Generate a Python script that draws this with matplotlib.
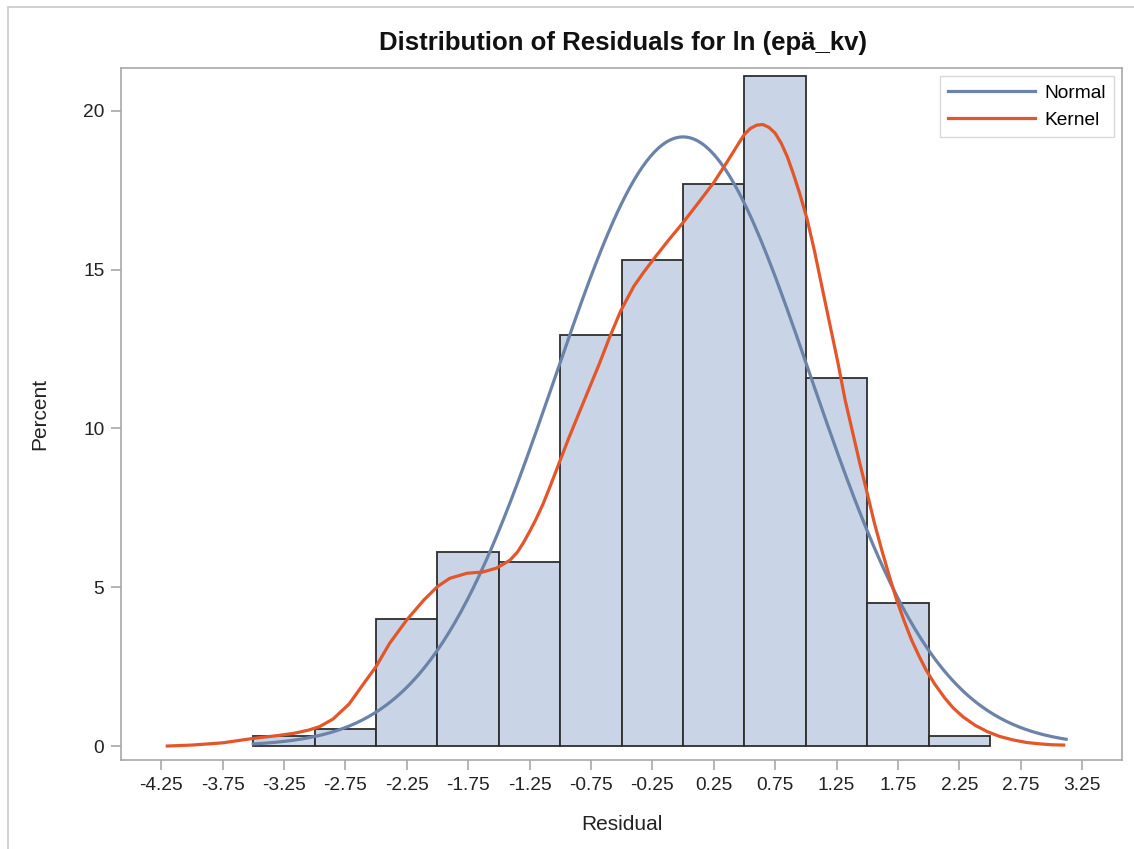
import numpy as np
import matplotlib
matplotlib.use('Agg')
import matplotlib.pyplot as plt
from matplotlib.lines import Line2D

plt.rcParams['font.family'] = ['Liberation Sans', 'DejaVu Sans']

# Histogram: bin edges and percent per bin
bin_edges = [-3.5, -3.0, -2.5, -2.0, -1.5, -1.0, -0.5, 0.0, 0.5, 1.0, 1.5, 2.0, 2.5]
bin_percent = [0.3, 0.55, 4.0, 6.1, 5.8, 12.95, 15.3, 17.7, 21.1, 11.6, 4.5, 0.3]

# Fitted normal parameters
normal_mu = 0.0
normal_sigma = 1.04
normal_range = (-3.5, 3.12)

# Kernel density curve
kernel_x = [-4.20, -4.00, -3.75, -3.50, -3.30, -3.17, -3.05, -2.96, -2.85, -2.72,
            -2.60, -2.50, -2.39, -2.25, -2.11, -2.00, -1.90, -1.76, -1.63, -1.52,
            -1.41, -1.35, -1.30, -1.25, -1.20, -1.14, -1.08, -1.02, -0.93, -0.84,
            -0.76, -0.68, -0.60, -0.51, -0.45, -0.40, -0.32, -0.24, -0.12, 0.00,
            0.12, 0.25, 0.36, 0.46, 0.50, 0.55, 0.60, 0.65, 0.70, 0.75,
            0.80, 0.85, 0.90, 0.95, 1.01, 1.07, 1.14, 1.20, 1.26, 1.32,
            1.38, 1.44, 1.50, 1.56, 1.62, 1.68, 1.74, 1.80, 1.86, 1.92,
            1.98, 2.05, 2.13, 2.20, 2.28, 2.38, 2.48, 2.58, 2.69, 2.80,
            2.90, 3.00, 3.10]
kernel_y = [0.00, 0.03, 0.10, 0.24, 0.33, 0.40, 0.50, 0.61, 0.85, 1.32,
            1.97, 2.50, 3.23, 3.97, 4.60, 5.02, 5.28, 5.44, 5.48, 5.60,
            5.85, 6.10, 6.40, 6.75, 7.12, 7.62, 8.20, 8.80, 9.70, 10.55,
            11.30, 12.05, 12.85, 13.68, 14.12, 14.48, 14.92, 15.33, 15.92, 16.48,
            17.08, 17.74, 18.40, 19.02, 19.26, 19.45, 19.55, 19.57, 19.48, 19.30,
            18.98, 18.55, 18.00, 17.40, 16.60, 15.60, 14.30, 13.20, 12.10, 10.90,
            9.90, 8.90, 7.96, 7.00, 6.15, 5.35, 4.60, 3.95, 3.35, 2.85,
            2.39, 1.95, 1.52, 1.20, 0.92, 0.65, 0.45, 0.30, 0.19, 0.11,
            0.07, 0.04, 0.03]

x_ticks = [-4.25, -3.75, -3.25, -2.75, -2.25, -1.75, -1.25, -0.75, -0.25,
           0.25, 0.75, 1.25, 1.75, 2.25, 2.75, 3.25]
y_ticks = [0, 5, 10, 15, 20]

bar_color = '#C9D5E6'
normal_color = '#6B83A8'
kernel_color = '#E2562A'
axis_gray = '#A8A8A8'

fig = plt.figure(figsize=(11.34, 8.49), dpi=100)
ax = fig.add_axes([121 / 1134, 1 - 760 / 849, 1001 / 1134, 692 / 849])

# histogram bars
lefts = bin_edges[:-1]
widths = np.diff(bin_edges)
ax.bar(lefts, bin_percent, width=widths, align='edge', color=bar_color,
       edgecolor='#2E2E2E', linewidth=1.3, zorder=2)

# normal curve
xn = np.linspace(normal_range[0], normal_range[1], 400)
bw = widths[0]
yn = 100 * bw / (normal_sigma * np.sqrt(2 * np.pi)) * np.exp(-0.5 * ((xn - normal_mu) / normal_sigma) ** 2)
ax.plot(xn, yn, color=normal_color, linewidth=2.3, zorder=3)

# kernel curve
ax.plot(kernel_x, kernel_y, color=kernel_color, linewidth=2.3, zorder=4,
        solid_joinstyle='round')

ax.set_xlim(-4.577, 3.575)
ax.set_ylim(-0.44, 21.35)
ax.set_xticks(x_ticks)
ax.set_xticklabels([f'{t:.2f}' for t in x_ticks])
ax.set_yticks(y_ticks)

for s in ax.spines.values():
    s.set_color(axis_gray)
    s.set_linewidth(1.2)
ax.tick_params(axis='both', direction='out', length=7, width=1.2, color=axis_gray,
               labelsize=13.8, labelcolor='#222222', pad=5)

ax.set_xlabel('Residual', fontsize=15, color='#222222', labelpad=15)
ax.set_ylabel('Percent', fontsize=15, color='#222222', labelpad=24)

fig.text(623 / 1134, 1 - 43 / 849, 'Distribution of Residuals for ln (epä_kv)',
         ha='center', va='center', fontsize=18.5, fontweight='bold', color='#111111')

handles = [Line2D([], [], color=normal_color, linewidth=2.3),
           Line2D([], [], color=kernel_color, linewidth=2.3)]
leg = ax.legend(handles, ['Normal', 'Kernel'], loc='upper right', fontsize=13.8,
                handlelength=4.5, frameon=True, fancybox=False,
                borderaxespad=0.4, labelspacing=0.5, handletextpad=0.5,
                borderpad=0.45)
leg.get_frame().set_edgecolor('#D0D0D0')
leg.get_frame().set_linewidth(1.0)

# outer graph border
border = plt.Rectangle((8 / 1134, -0.05), 1.2, 1 - 7 / 849 + 0.05,
                       transform=fig.transFigure, fill=False,
                       edgecolor='#C8C8C8', linewidth=1.2)
fig.patches.append(border)

fig.savefig('out.png', dpi=100)
